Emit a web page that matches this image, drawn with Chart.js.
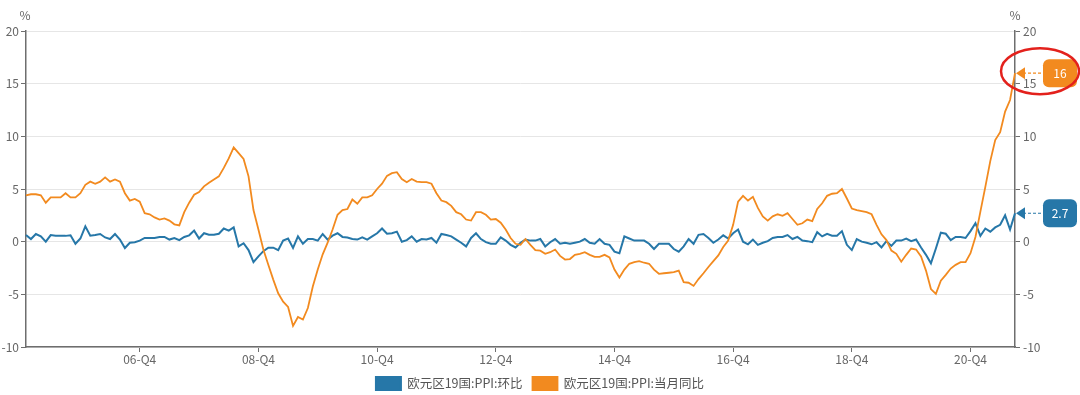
<!DOCTYPE html>
<html>
<head>
<meta charset="utf-8">
<script src="https://cdn.jsdelivr.net/npm/chart.js@4.4.1/dist/chart.umd.min.js"></script>
<style>
  html, body { margin: 0; padding: 0; background: #fff; }
  #wrap { width: 1080px; height: 395px; }
</style>
</head>
<body>
<div id="wrap"><canvas id="ppi-chart" width="1080" height="395"></canvas></div>
<script>
// monthly data, 2005-01 .. 2021-09
const months = [];
for (let y = 2005; y <= 2021; y++) {
  for (let m = 1; m <= 12; m++) {
    if (y === 2021 && m > 9) break;
    months.push(String(y).slice(2) + '-' + String(m).padStart(2, '0'));
  }
}

const tickLabels = ['06-Q4', '08-Q4', '10-Q4', '12-Q4', '14-Q4', '16-Q4', '18-Q4', '20-Q4'];
const yTicks = [-10, -5, 0, 5, 10, 15, 20];

const seriesNames = ['欧元区19国:PPI:环比', '欧元区19国:PPI:当月同比'];

// 欧元区19国:PPI:环比
const momValues = [
  0.63, 0.25, 0.73, 0.5, 0, 0.63, 0.57, 0.55, 0.55, 0.6, -0.2, 0.3,
  1.45, 0.57, 0.63, 0.73, 0.4, 0.25, 0.73, 0.2, -0.6, -0.1, -0.05, 0.1,
  0.35, 0.35, 0.35, 0.45, 0.45, 0.2, 0.35, 0.15, 0.45, 0.6, 1.05, 0.3,
  0.8, 0.65, 0.65, 0.75, 1.25, 1.05, 1.35, -0.45, -0.15, -0.8, -1.95, -1.4,
  -0.9, -0.57, -0.57, -0.8, 0.1, 0.3, -0.6, 0.5, -0.2, 0.25, 0.25, 0.1,
  0.73, 0.2, 0.57, 0.8, 0.45, 0.4, 0.25, 0.2, 0.4, 0.2, 0.5, 0.8,
  1.25, 0.75, 0.8, 0.95, 0, 0.15, 0.5, 0, 0.25, 0.2, 0.35, -0.1,
  0.73, 0.63, 0.5, 0.2, -0.1, -0.45, 0.35, 0.8, 0.25, -0.05, -0.2, -0.2,
  0.4, 0.1, -0.3, -0.55, -0.1, 0.2, 0.1, 0.1, 0.25, -0.45, -0.05, 0.25,
  -0.2, -0.1, -0.2, -0.1, 0, 0.25, -0.1, -0.2, 0.25, -0.2, -0.3, -0.95,
  -1.1, 0.5, 0.3, 0.1, 0.1, 0.1, -0.2, -0.7, -0.2, -0.2, -0.2, -0.7,
  -0.95, -0.45, 0.25, -0.2, 0.65, 0.73, 0.35, -0.1, 0.2, 0.6, 0.3, 0.8,
  1.15, 0, -0.25, 0.2, -0.3, -0.1, 0.05, 0.35, 0.45, 0.45, 0.63, 0.25,
  0.45, 0.1, 0.05, -0.05, 0.9, 0.5, 0.75, 0.57, 0.57, 1.0, -0.3, -0.8,
  0.25, 0, -0.1, -0.25, -0.05, -0.55, 0.05, -0.4, 0.1, 0.1, 0.3, 0.05,
  0.2, -0.55, -1.25, -2.05, -0.65, 0.85, 0.75, 0.15, 0.45, 0.45, 0.35, 1.0,
  1.75, 0.55, 1.25, 0.95, 1.35, 1.6, 2.5, 1.15, 2.7
];

// 欧元区19国:PPI:当月同比
const yoyValues = [
  4.4, 4.5, 4.5, 4.4, 3.7, 4.2, 4.2, 4.2, 4.6, 4.2, 4.2, 4.6,
  5.4, 5.7, 5.5, 5.7, 6.1, 5.7, 5.9, 5.7, 4.6, 3.9, 4.05, 3.8,
  2.7, 2.6, 2.3, 2.1, 2.2, 2.0, 1.65, 1.55, 2.8, 3.7, 4.45, 4.7,
  5.25, 5.6, 5.9, 6.2, 7.0, 7.9, 8.95, 8.4, 7.85, 6.2, 3.0, 1.15,
  -0.75, -2.2, -3.6, -4.9, -5.7, -6.2, -8.0, -7.15, -7.4, -6.3, -4.25, -2.65,
  -1.2, -0.1, 1.15, 2.55, 3.0, 3.1, 4.0, 3.6, 4.2, 4.2, 4.4, 5.0,
  5.5, 6.25, 6.5, 6.6, 5.95, 5.65, 5.95, 5.7, 5.65, 5.65, 5.5, 4.6,
  3.9, 3.75, 3.4, 2.8, 2.6, 2.1, 2.0, 2.8, 2.8, 2.55, 2.1, 2.15,
  1.8, 1.15, 0.35, -0.2, -0.3, 0.25, -0.3, -0.8, -0.85, -1.15, -1.0, -0.75,
  -1.35, -1.7, -1.65, -1.25, -1.15, -1.0, -1.25, -1.45, -1.45, -1.25, -1.5, -2.65,
  -3.4, -2.65, -2.1, -1.95, -1.85, -2.0, -2.1, -2.65, -3.05, -3.0, -2.95, -2.9,
  -2.75, -3.85, -3.9, -4.2, -3.55, -3.0, -2.4, -1.85, -1.3, -0.5, 0.1, 1.6,
  3.8, 4.35, 3.9, 4.25, 3.2, 2.4, 2.0, 2.4, 2.6, 2.45, 2.7, 2.15,
  1.6, 1.75, 2.1, 1.95, 3.1, 3.65, 4.35, 4.55, 4.6, 5.0, 4.1, 3.15,
  3.0, 2.9, 2.8, 2.6, 1.6, 0.7, 0.15, -0.85, -1.15, -1.9, -1.25, -0.65,
  -0.75, -1.4, -2.75, -4.5, -4.95, -3.7, -3.15, -2.55, -2.2, -1.95, -1.95, -1.1,
  0.45, 2.85, 5.2, 7.65, 9.65, 10.4, 12.35, 13.45, 16.0
];

const BLUE = '#2677a8';
const ORANGE = '#f28a1f';
const AXIS_GREY = '#6e6e6e';
const TEXT_GREY = '#666';

Chart.defaults.font.family = '"Noto Sans CJK SC", "Open Sans", sans-serif';
Chart.defaults.color = TEXT_GREY;

// percent units, end-value badges and the red ring
const overlayPlugin = {
  id: 'overlay',
  afterDraw(chart) {
    const ctx = chart.ctx;
    const area = chart.chartArea;
    ctx.save();
    ctx.font = '12px "Noto Sans CJK SC", sans-serif';
    ctx.fillStyle = TEXT_GREY;
    ctx.textAlign = 'center';
    ctx.textBaseline = 'middle';
    ctx.fillText('%', area.left - 1, 15);
    ctx.fillText('%', area.right, 15);

    chart.data.datasets.forEach((ds, i) => {
      const last = ds.data[ds.data.length - 1];
      const scale = chart.scales[ds.yAxisID];
      const y = scale.getPixelForValue(last);
      const x0 = area.right;
      // dashed pointer
      ctx.strokeStyle = ds.borderColor;
      ctx.lineWidth = 1.2;
      ctx.setLineDash([3, 2]);
      ctx.beginPath();
      ctx.moveTo(x0 + 8, y);
      ctx.lineTo(x0 + 28, y);
      ctx.stroke();
      ctx.setLineDash([]);
      // arrow head
      ctx.fillStyle = ds.borderColor;
      ctx.beginPath();
      ctx.moveTo(x0 + 1, y);
      ctx.lineTo(x0 + 10, y - 6);
      ctx.lineTo(x0 + 10, y + 6);
      ctx.closePath();
      ctx.fill();
      // badge
      const bx = x0 + 28, bw = 34, bh = 28;
      ctx.beginPath();
      ctx.roundRect(bx, y - bh / 2, bw, bh, 6);
      ctx.fill();
      ctx.fillStyle = '#fff';
      ctx.font = '12px "Noto Sans CJK SC", sans-serif';
      ctx.fillText(String(last), bx + bw / 2, y);

      if (i === 1) {
        ctx.strokeStyle = '#e3211c';
        ctx.lineWidth = 2.5;
        ctx.beginPath();
        ctx.ellipse(x0 + 25, y - 2, 39, 23, 0, 0, Math.PI * 2);
        ctx.stroke();
      }
    });
    ctx.restore();
  }
};

const ctx = document.getElementById('ppi-chart').getContext('2d');

const chart = new Chart(ctx, {
  type: 'line',
  data: {
    labels: months,
    datasets: [
      {
        label: seriesNames[0],
        data: momValues,
        yAxisID: 'y',
        borderColor: BLUE,
        backgroundColor: BLUE,
        borderWidth: 2,
        pointRadius: 0,
        tension: 0,
        order: 1
      },
      {
        label: seriesNames[1],
        data: yoyValues,
        yAxisID: 'y1',
        borderColor: ORANGE,
        backgroundColor: ORANGE,
        borderWidth: 1.8,
        pointRadius: 0,
        tension: 0,
        order: 0
      }
    ]
  },
  options: {
    responsive: false,
    animation: false,
    // negative bottom padding pushes the legend row down to the canvas edge
    layout: { padding: { top: 31, left: 0, right: 0, bottom: -5 } },
    plugins: {
      legend: {
        position: 'bottom',
        labels: {
          boxWidth: 25,
          boxHeight: 13,
          padding: 10,
          color: '#555',
          font: { size: 12.5 },
          sort: (a, b) => a.datasetIndex - b.datasetIndex
        }
      },
      tooltip: { enabled: false }
    },
    scales: {
      x: {
        offset: false,
        afterFit: (scale) => { scale.height = 20; },
        grid: {
          drawOnChartArea: false,
          drawTicks: true,
          tickLength: 5,
          tickColor: AXIS_GREY
        },
        border: { color: AXIS_GREY, width: 1.5 },
        ticks: {
          autoSkip: false,
          maxRotation: 0,
          padding: 0,
          font: { size: 12 },
          color: TEXT_GREY,
          callback: (val, i) => {
            const c = months[i];
            if (!c.endsWith('-12')) return null;
            const q = c.slice(0, 2) + '-Q4';
            return tickLabels.includes(q) ? q : null;
          }
        }
      },
      y: {
        position: 'left',
        min: -10,
        max: 20,
        afterFit: (scale) => { scale.width = 26; },
        afterBuildTicks: (scale) => { scale.ticks = yTicks.map(v => ({ value: v })); },
        grid: {
          color: '#e6e6e6',
          tickColor: AXIS_GREY,
          tickLength: 5
        },
        border: { color: AXIS_GREY, width: 1.5 },
        ticks: { padding: 2, font: { size: 12 }, color: TEXT_GREY }
      },
      y1: {
        position: 'right',
        min: -10,
        max: 20,
        afterFit: (scale) => { scale.width = 65; },
        afterBuildTicks: (scale) => { scale.ticks = yTicks.map(v => ({ value: v })); },
        grid: {
          drawOnChartArea: false,
          tickColor: AXIS_GREY,
          tickLength: 5
        },
        border: { color: AXIS_GREY, width: 1.5 },
        ticks: { padding: 3, font: { size: 12 }, color: TEXT_GREY }
      }
    }
  },
  plugins: [overlayPlugin]
});
</script>
</body>
</html>
